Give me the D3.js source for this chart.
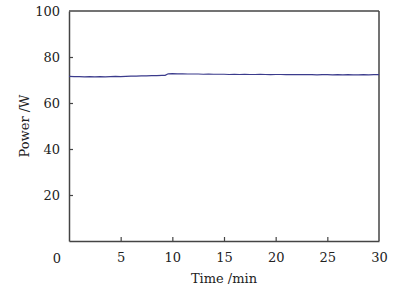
<!DOCTYPE html>
<html>
<head>
<script src="https://d3js.org/d3.v7.min.js"></script>
<style>
  body { margin: 0; background: #fff; }
  svg text { font-family: "DejaVu Serif", serif !important; }
</style>
</head>
<body>
<div id="chart"></div>
<script>
// Power readings over time
const timeMin = [0, 0.5, 1, 1.5, 2, 2.5, 3, 3.5, 4, 4.5, 5, 5.5, 6, 6.5, 7, 7.5, 8, 8.5, 9, 9.3,
  9.6, 10, 10.5, 11, 11.5, 12, 12.5, 13, 13.5, 14, 14.5, 15, 15.5, 16, 16.5, 17, 17.5, 18, 18.5,
  19, 19.5, 20, 20.5, 21, 21.5, 22, 22.5, 23, 23.5, 24, 24.5, 25, 25.5, 26, 26.5, 27, 27.5, 28,
  28.5, 29, 29.5, 30];
const powerW = [71.6, 71.5, 71.5, 71.4, 71.5, 71.4, 71.5, 71.4, 71.5, 71.6, 71.5, 71.6, 71.7, 71.7,
  71.8, 71.8, 71.9, 71.9, 72.0, 72.0, 72.7, 72.8, 72.7, 72.7, 72.6, 72.6, 72.6, 72.5, 72.6, 72.5,
  72.5, 72.5, 72.4, 72.5, 72.4, 72.5, 72.4, 72.4, 72.5, 72.4, 72.3, 72.4, 72.4, 72.3, 72.4, 72.3,
  72.3, 72.4, 72.3, 72.2, 72.3, 72.3, 72.2, 72.3, 72.2, 72.3, 72.2, 72.2, 72.3, 72.2, 72.3, 72.3];
const xTicks = [5, 10, 15, 20, 25, 30];
const yTicks = [20, 40, 60, 80, 100];

const width = 400, height = 289;
const margin = { top: 11, right: 21, bottom: 48, left: 69 };

const svg = d3.select("#chart").append("svg")
  .attr("width", width).attr("height", height);

const x = d3.scaleLinear().domain([0, 30])
  .range([margin.left, width - margin.right]);
const y = d3.scaleLinear().domain([0, 100])
  .range([height - margin.bottom, margin.top]);

const axisColor = "#444";
const fs = 13;

// bottom axis, ticks pointing inward
const gx = svg.append("g")
  .attr("transform", `translate(0,${height - margin.bottom})`)
  .call(d3.axisBottom(x).tickValues(xTicks).tickSizeInner(-4).tickSizeOuter(0).tickPadding(12));
// left axis
const gy = svg.append("g")
  .attr("transform", `translate(${margin.left},0)`)
  .call(d3.axisLeft(y).tickValues(yTicks).tickSizeInner(-4).tickSizeOuter(0).tickPadding(9));

[gx, gy].forEach(g => {
  g.attr("font-family", null);
  g.select(".domain").attr("stroke", axisColor).attr("stroke-width", 1.5);
  g.selectAll(".tick line").attr("stroke", axisColor).attr("stroke-width", 1.2);
  g.selectAll(".tick text").attr("font-size", fs).attr("fill", "#222");
});
gx.select(".tick:last-of-type line").remove();
gy.select(".tick:last-of-type line").remove();

// corner zero label
svg.append("text")
  .attr("x", margin.left - 12).attr("y", height - margin.bottom + 22)
  .attr("text-anchor", "middle").attr("font-size", fs).attr("fill", "#222")
  .text("0");

// top and right frame
svg.append("line")
  .attr("x1", x(0)).attr("x2", x(30)).attr("y1", y(100)).attr("y2", y(100))
  .attr("stroke", axisColor).attr("stroke-width", 1.5);
svg.append("line")
  .attr("x1", x(30)).attr("x2", x(30)).attr("y1", y(100)).attr("y2", y(0))
  .attr("stroke", axisColor).attr("stroke-width", 1.5);

// data line
const line = d3.line().x((d, i) => x(timeMin[i])).y(d => y(d));
svg.append("path")
  .datum(powerW)
  .attr("fill", "none")
  .attr("stroke", "#3b3b8c")
  .attr("stroke-width", 1.2)
  .attr("d", line);

// axis titles
svg.append("text")
  .attr("x", (x(0) + x(30)) / 2).attr("y", 283)
  .attr("text-anchor", "middle").attr("font-size", fs).attr("fill", "#222")
  .text("Time /min");
svg.append("text")
  .attr("transform", `translate(29,${(y(0) + y(100)) / 2}) rotate(-90)`)
  .attr("text-anchor", "middle").attr("font-size", fs).attr("fill", "#222")
  .text("Power /W");
</script>
</body>
</html>
